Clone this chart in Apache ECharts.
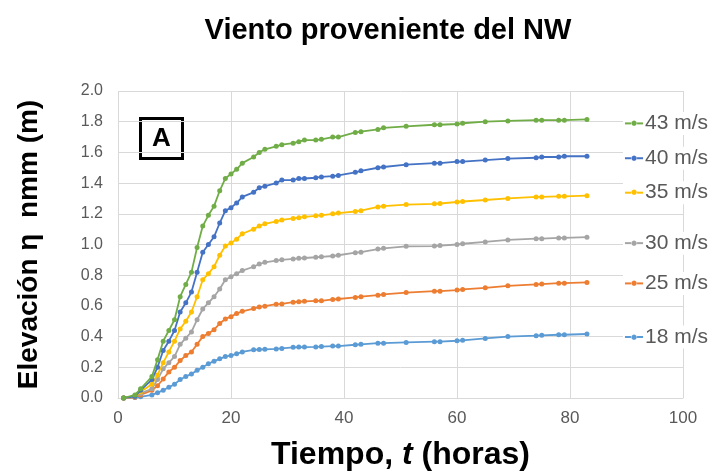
<!DOCTYPE html>
<html><head><meta charset="utf-8">
<script src="https://cdn.jsdelivr.net/npm/echarts@6/dist/echarts.min.js"></script>
<style>html,body{margin:0;padding:0;background:#fff}#c{width:712px;height:472px}</style>
</head><body><div id="c"></div>
<script>
const times = [1,3,4,6,7,8,9,10,11,12,13,14,15,16,17,18,19,20,21,22,24,25,26,28,29,31,32,33,35,36,38,39,42,43,46,47,51,56,57,60,61,65,69,74,75,78,79,83];
const v43 = [0,0.02,0.06,0.14,0.25,0.37,0.44,0.51,0.66,0.74,0.82,0.98,1.12,1.19,1.25,1.35,1.43,1.46,1.49,1.53,1.57,1.60,1.62,1.64,1.65,1.66,1.67,1.68,1.68,1.685,1.70,1.70,1.73,1.735,1.75,1.76,1.77,1.78,1.78,1.785,1.79,1.80,1.805,1.81,1.81,1.81,1.81,1.815];
const v40 = [0,0.01,0.05,0.12,0.20,0.31,0.37,0.44,0.56,0.62,0.69,0.82,0.95,1.00,1.05,1.14,1.22,1.24,1.27,1.31,1.34,1.37,1.38,1.40,1.42,1.42,1.43,1.43,1.435,1.44,1.445,1.45,1.47,1.48,1.50,1.505,1.52,1.53,1.53,1.54,1.54,1.55,1.56,1.565,1.57,1.57,1.575,1.575];
const v35 = [0,0.01,0.04,0.09,0.15,0.23,0.30,0.37,0.45,0.50,0.56,0.66,0.77,0.81,0.855,0.93,0.99,1.01,1.035,1.07,1.10,1.12,1.135,1.15,1.16,1.17,1.175,1.18,1.187,1.19,1.20,1.205,1.215,1.22,1.245,1.25,1.26,1.265,1.267,1.277,1.28,1.29,1.30,1.31,1.31,1.314,1.314,1.318];
const v30 = [0,0.01,0.03,0.06,0.12,0.19,0.23,0.27,0.35,0.39,0.43,0.51,0.58,0.62,0.66,0.71,0.77,0.79,0.81,0.83,0.855,0.873,0.884,0.895,0.90,0.906,0.91,0.912,0.917,0.92,0.925,0.93,0.947,0.95,0.97,0.975,0.988,0.99,0.993,1.0,1.005,1.017,1.03,1.038,1.038,1.043,1.043,1.048];
const v25 = [0,0.005,0.02,0.05,0.08,0.124,0.17,0.20,0.244,0.277,0.30,0.35,0.40,0.42,0.445,0.485,0.515,0.53,0.55,0.565,0.583,0.593,0.598,0.611,0.613,0.624,0.627,0.63,0.633,0.633,0.642,0.645,0.655,0.66,0.67,0.675,0.687,0.696,0.696,0.703,0.707,0.718,0.731,0.74,0.742,0.748,0.748,0.753];
const v18 = [0,0.004,0.008,0.02,0.035,0.05,0.07,0.09,0.12,0.14,0.157,0.18,0.20,0.223,0.24,0.255,0.27,0.277,0.288,0.30,0.314,0.316,0.317,0.32,0.323,0.33,0.332,0.332,0.333,0.335,0.338,0.338,0.347,0.35,0.357,0.357,0.362,0.367,0.367,0.373,0.376,0.388,0.40,0.406,0.408,0.412,0.412,0.417];
const seriesNames = ['18 m/s','25 m/s','30 m/s','35 m/s','40 m/s','43 m/s'];
const seriesValues = [v18, v25, v30, v35, v40, v43];
const xTicks = [0,20,40,60,80,100];
const yTicks = [0,0.2,0.4,0.6,0.8,1.0,1.2,1.4,1.6,1.8,2.0];

const colors = ['#5B9BD5','#ED7D31','#A5A5A5','#FFC000','#4472C4','#70AD47'];
const labelOffsets = [[0,3],[0,1],[0,6],[0,-3],[0,2],[0,4]];

const chart = echarts.init(document.getElementById('c'));
const series = seriesValues.map((vals, i) => ({
  name: seriesNames[i],
  type: 'line',
  data: vals.map((v, k) => [times[k], v]),
  symbol: 'circle',
  symbolSize: 5,
  lineStyle: {width: 1.8, color: colors[i]},
  itemStyle: {color: colors[i]},
  z: 2 + i,
  endLabel: {
    show: true,
    distance: 36,
    offset: labelOffsets[i],
    backgroundColor: '#fff',
    padding: [1, 2, 1, 2],
    formatter: '{l|}{d|●}{l|}{t|' + seriesNames[i] + '}',
    rich: {
      l: {width: 6, height: 2, backgroundColor: colors[i], verticalAlign: 'middle'},
      d: {color: colors[i], fontSize: 7, fontFamily: 'DejaVu Sans', verticalAlign: 'middle'},
      t: {color: '#595959', fontSize: 21, fontFamily: 'Liberation Sans', padding: [0,0,0,2], verticalAlign: 'middle'}
    }
  }
}));

chart.setOption({
  animation: false,
  backgroundColor: '#fff',
  title: {
    text: 'Viento proveniente del NW',
    left: 383, top: 11, textAlign: 'center',
    textStyle: {fontFamily: 'Liberation Sans', fontWeight: 'bold', fontSize: 29, color: '#000'}
  },
  grid: {left: 118, right: 29, top: 91, bottom: 74, containLabel: false, outerBoundsMode: 'none'},
  xAxis: {
    type: 'value', min: xTicks[0], max: xTicks[xTicks.length-1], interval: 20,
    axisLine: {show: true, lineStyle: {color: '#d9d9d9'}},
    axisTick: {show: false},
    splitLine: {show: true, lineStyle: {color: '#d9d9d9'}},
    axisLabel: {color: '#595959', fontSize: 17, fontFamily: 'Liberation Sans', margin: 12},
    name: '{a|Tiempo, }{b|t}{a| (horas)}',
    nameLocation: 'middle', nameGap: 41,
    nameTextStyle: {
      rich: {
        a: {fontSize: 32, fontWeight: 'bold', fontFamily: 'Liberation Sans', color: '#000'},
        b: {fontSize: 32, fontWeight: 'bold', fontStyle: 'italic', fontFamily: 'Liberation Sans', color: '#000'}
      }
    }
  },
  yAxis: {
    type: 'value', min: yTicks[0], max: yTicks[yTicks.length-1], interval: 0.2,
    axisLine: {show: false},
    axisTick: {show: false},
    splitLine: {show: true, lineStyle: {color: '#d9d9d9'}},
    axisLabel: {color: '#595959', fontSize: 16, fontFamily: 'Liberation Sans', margin: 15,
      formatter: v => v.toFixed(1)},
    name: 'Elevación η  nmm (m)',
    nameLocation: 'middle', nameGap: 75,
    nameTextStyle: {fontSize: 28, fontWeight: 'bold', fontFamily: 'Liberation Sans', color: '#000'}
  },
  graphic: [{
    type: 'group', left: 139, top: 117,
    children: [
      {type: 'rect', shape: {x: 0, y: 0, width: 42, height: 40}, style: {fill: '#fff', stroke: '#000', lineWidth: 3}},
      {type: 'text', x: 21, y: 20, style: {text: 'A', fontSize: 26, fontWeight: 'bold', fontFamily: 'Liberation Sans', fill: '#000', align: 'center', verticalAlign: 'middle'}}
    ]
  }],
  series: series
});
</script>
</body></html>
